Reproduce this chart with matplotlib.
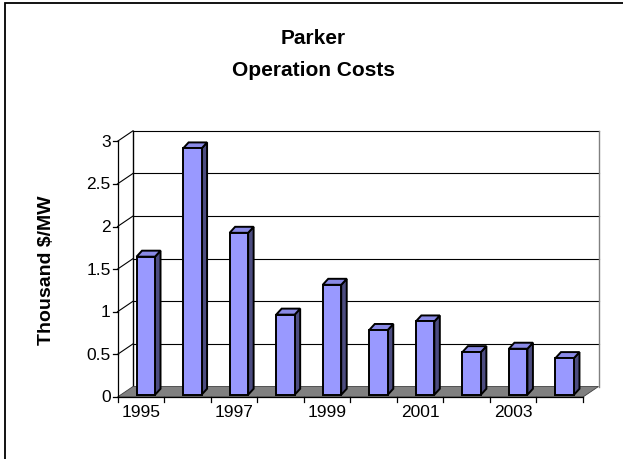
import matplotlib
matplotlib.use('Agg')
import matplotlib.pyplot as plt
from matplotlib.patches import Polygon, Rectangle

plt.rcParams['font.family'] = ['Liberation Sans', 'DejaVu Sans']

# data
years = [1995, 1996, 1997, 1998, 1999, 2000, 2001, 2002, 2003, 2004]
costs = [1.62, 2.89, 1.90, 0.94, 1.29, 0.76, 0.86, 0.50, 0.54, 0.43]
yticks = [0, 0.5, 1, 1.5, 2, 2.5, 3]
ytick_labels = ['0', '0.5', '1', '1.5', '2', '2.5', '3']
title_lines = ['Parker', 'Operation Costs']
ylabel = 'Thousand $/MW'

W, H = 623, 460
fig = plt.figure(figsize=(W / 100., H / 100.), dpi=100)

# front plane of the plot in pixels
x0, x1 = 117.5, 583.0
y0, y1 = 398.0, 142.3
ax = fig.add_axes([x0 / W, 1 - y0 / H, (x1 - x0) / W, (y0 - y1) / H])
n = len(years)
ax.set_xlim(0, n)
ax.set_ylim(0, 3)
ax.axis('off')

pxx = (x1 - x0) / n      # pixels per category
pxy = (y0 - y1) / 3.     # pixels per unit
wdx, wdy = 15.5 / pxx, 10.5 / pxy   # wall depth
bdx, bdy = 5.5 / pxx, 6.0 / pxy     # bar depth
bw = 18.5 / pxx                     # bar front width

# back wall
ax.add_patch(Polygon([(wdx, wdy), (n + wdx, wdy), (n + wdx, 3 + wdy), (wdx, 3 + wdy)],
                     closed=True, facecolor='white', edgecolor='none', clip_on=False, zorder=1))
for v in yticks[1:]:
  ax.plot([wdx, n + wdx], [v + wdy, v + wdy], color='black', lw=0.8, clip_on=False, zorder=2)
  ax.plot([0, wdx], [v, v + wdy], color='black', lw=0.8, clip_on=False, zorder=2)
ax.plot([wdx, wdx], [wdy, 3 + wdy], color='black', lw=1.0, clip_on=False, zorder=2)
ax.plot([n + wdx, n + wdx], [wdy, 3 + wdy], color='#808080', lw=1.0, clip_on=False, zorder=2)

# floor
ax.add_patch(Polygon([(0, 0), (n, 0), (n + wdx, wdy), (wdx, wdy)], closed=True,
                     facecolor='#808080', edgecolor='#404040', lw=0.6, clip_on=False, zorder=3))

# axes lines and ticks
ax.plot([0, 0], [0, 3], color='black', lw=0.9, clip_on=False, zorder=4)
ax.plot([0, n], [0, 0], color='black', lw=0.9, clip_on=False, zorder=4)
tl_x = 5. / pxx
tl_y = 5. / pxy
for v, lab in zip(yticks, ytick_labels):
  ax.plot([-tl_x, 0], [v, v], color='black', lw=0.9, clip_on=False, zorder=4)
  ax.text(-7. / pxx, v, lab, ha='right', va='center', fontsize=12.5)
for i in range(n + 1):
  ax.plot([i, i], [0, -tl_y], color='black', lw=0.9, clip_on=False, zorder=4)
for i, yr in enumerate(years):
  if i % 2 == 0:
    ax.text(i + 0.5, -7. / pxy, str(yr), ha='center', va='top', fontsize=12.5)

# bars
off_x = (wdx - bdx) / 2.
off_y = (wdy - bdy) / 2.
for i, c in enumerate(costs):
  left = i + 0.5 - bw / 2. + off_x
  right = left + bw
  b = off_y
  t = off_y + c
  front = [(left, b), (right, b), (right, t), (left, t)]
  side = [(right, b), (right + bdx, b + bdy), (right + bdx, t + bdy), (right, t)]
  top = [(left, t), (right, t), (right + bdx, t + bdy), (left + bdx, t + bdy)]
  for pts, col in [(side, '#4c4c80'), (top, '#8a8ae6'), (front, '#9999ff')]:
    ax.add_patch(Polygon(pts, closed=True, facecolor=col, edgecolor='black',
                         lw=1.4, joinstyle='miter', clip_on=False, zorder=5))

# title and y label
fig.text(313. / W, 1 - 38. / H, title_lines[0], ha='center', va='center', fontsize=15,
         fontweight='bold')
fig.text(313. / W, 1 - 70. / H, title_lines[1], ha='center', va='center', fontsize=15,
         fontweight='bold')
fig.text(47. / W, 1 - 270. / H, ylabel, ha='center', va='center', rotation=90,
         fontsize=14, fontweight='bold')

# chart border (cut at right and bottom)
fig.add_artist(Rectangle((4.5 / W, -0.1), 1.2, 1 - 3.5 / H + 0.1, transform=fig.transFigure,
                         facecolor='none', edgecolor='black', lw=1.3))

plt.savefig('out.png', dpi=100)
plt.close()
